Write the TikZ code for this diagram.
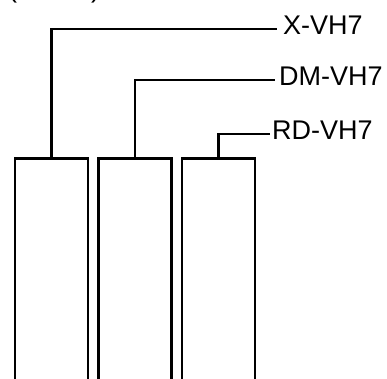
\documentclass[tikz,border=0pt]{standalone}
\usepackage{fontspec}
\setmainfont{Liberation Sans}
\usetikzlibrary{positioning}

\begin{document}
\begin{tikzpicture}[x=1pt,y=-1pt,
    bar/.style={draw, line width=2.8pt, anchor=north, minimum width=73pt, minimum height=260pt, inner sep=0pt},
    lead/.style={line width=2.8pt},
    tag/.style={anchor=west, inner sep=0pt, font=\fontsize{27}{32}\selectfont}]
    \useasboundingbox (0,0) rectangle (387,378);

    % Caption cut off at the top
    \node[tag] (cap) at (8,-9) {(\hspace{74pt})};

    % Bars
    \foreach \i/\x in {1/51.5,2/135,3/218.5} {
        \node[bar] (bar\i) at (\x,157) {};
    }

    % Line ends
    \coordinate (end1) at (277,29);
    \coordinate (end2) at (275,80);
    \coordinate (end3) at (270,134);

    % Leaders
    \draw[lead] (bar1.north) |- (end1);
    \draw[lead] (bar2.north) |- (end2);
    \draw[lead] (bar3.north) |- (end3);

    % Labels
    \node[tag] (lab1) at (283,25) {X-VH7};
    \node[tag] (lab2) at (279,76) {DM-VH7};
    \node[tag] (lab3) at (272,130) {RD-VH7};
\end{tikzpicture}
\end{document}
